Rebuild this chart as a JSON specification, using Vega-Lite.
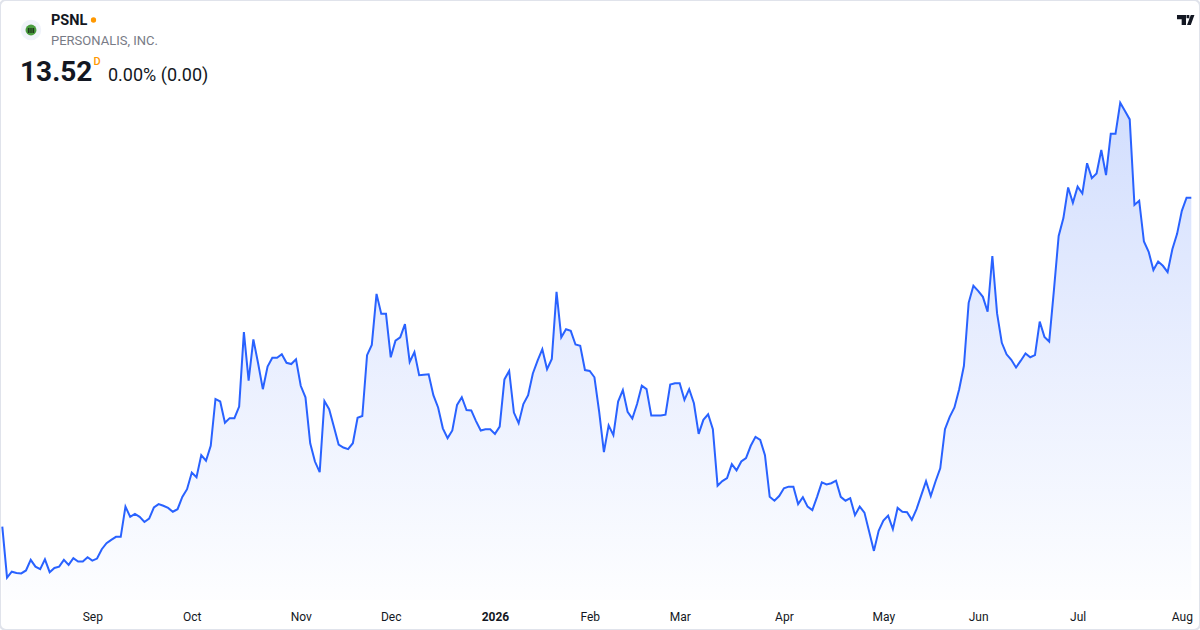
{
  "$schema": "https://vega.github.io/schema/vega-lite/v6.json",
  "description": "PSNL - Personalis, Inc. daily close, one year",
  "width": 1200,
  "height": 630,
  "autosize": {"type": "none"},
  "padding": 0,
  "background": "#ffffff",
  "config": {
    "font": "Roboto",
    "view": {"stroke": "#e0e3eb", "strokeWidth": 2, "cornerRadius": 6},
    "axis": {"domain": false, "ticks": false, "grid": false, "labelFont": "Roboto", "labelFontSize": 12, "labelColor": "#131722", "zindex": 1}
  },
  "layer": [
    {
      "data": {
        "values": [
          {"date": "2025-08-05", "close": 5.79}, {"date": "2025-08-06", "close": 4.59}, {"date": "2025-08-07", "close": 4.73},
          {"date": "2025-08-08", "close": 4.70}, {"date": "2025-08-11", "close": 4.69}, {"date": "2025-08-12", "close": 4.76},
          {"date": "2025-08-13", "close": 5.01}, {"date": "2025-08-14", "close": 4.85}, {"date": "2025-08-15", "close": 4.79},
          {"date": "2025-08-18", "close": 5.02}, {"date": "2025-08-19", "close": 4.72}, {"date": "2025-08-20", "close": 4.82},
          {"date": "2025-08-21", "close": 4.85}, {"date": "2025-08-22", "close": 5.01}, {"date": "2025-08-25", "close": 4.89},
          {"date": "2025-08-26", "close": 5.05}, {"date": "2025-08-27", "close": 4.97}, {"date": "2025-08-28", "close": 4.97},
          {"date": "2025-08-29", "close": 5.07},
          {"date": "2025-09-02", "close": 4.99}, {"date": "2025-09-03", "close": 5.04}, {"date": "2025-09-04", "close": 5.26},
          {"date": "2025-09-05", "close": 5.40}, {"date": "2025-09-08", "close": 5.48}, {"date": "2025-09-09", "close": 5.55},
          {"date": "2025-09-10", "close": 5.55}, {"date": "2025-09-11", "close": 6.26}, {"date": "2025-09-12", "close": 6.02},
          {"date": "2025-09-15", "close": 6.09}, {"date": "2025-09-16", "close": 6.02}, {"date": "2025-09-17", "close": 5.90},
          {"date": "2025-09-18", "close": 5.98}, {"date": "2025-09-19", "close": 6.24}, {"date": "2025-09-22", "close": 6.32},
          {"date": "2025-09-23", "close": 6.28}, {"date": "2025-09-24", "close": 6.23}, {"date": "2025-09-25", "close": 6.14},
          {"date": "2025-09-26", "close": 6.20}, {"date": "2025-09-29", "close": 6.49}, {"date": "2025-09-30", "close": 6.67},
          {"date": "2025-10-01", "close": 7.06}, {"date": "2025-10-02", "close": 6.95}, {"date": "2025-10-03", "close": 7.47},
          {"date": "2025-10-06", "close": 7.34}, {"date": "2025-10-07", "close": 7.69}, {"date": "2025-10-08", "close": 8.79},
          {"date": "2025-10-09", "close": 8.73}, {"date": "2025-10-10", "close": 8.23}, {"date": "2025-10-13", "close": 8.34},
          {"date": "2025-10-14", "close": 8.34}, {"date": "2025-10-15", "close": 8.61}, {"date": "2025-10-16", "close": 10.36},
          {"date": "2025-10-17", "close": 9.22}, {"date": "2025-10-20", "close": 10.19}, {"date": "2025-10-21", "close": 9.63},
          {"date": "2025-10-22", "close": 9.02}, {"date": "2025-10-23", "close": 9.55}, {"date": "2025-10-24", "close": 9.76},
          {"date": "2025-10-27", "close": 9.76}, {"date": "2025-10-28", "close": 9.84}, {"date": "2025-10-29", "close": 9.64},
          {"date": "2025-10-30", "close": 9.61}, {"date": "2025-10-31", "close": 9.72},
          {"date": "2025-11-03", "close": 9.10}, {"date": "2025-11-04", "close": 8.83}, {"date": "2025-11-05", "close": 7.75},
          {"date": "2025-11-06", "close": 7.32}, {"date": "2025-11-07", "close": 7.07}, {"date": "2025-11-10", "close": 8.74},
          {"date": "2025-11-11", "close": 8.55}, {"date": "2025-11-12", "close": 8.14}, {"date": "2025-11-13", "close": 7.72},
          {"date": "2025-11-14", "close": 7.65}, {"date": "2025-11-17", "close": 7.61}, {"date": "2025-11-18", "close": 7.75},
          {"date": "2025-11-19", "close": 8.35}, {"date": "2025-11-20", "close": 8.39}, {"date": "2025-11-21", "close": 9.82},
          {"date": "2025-11-24", "close": 10.06}, {"date": "2025-11-25", "close": 11.26}, {"date": "2025-11-26", "close": 10.79},
          {"date": "2025-11-28", "close": 10.79},
          {"date": "2025-12-01", "close": 9.77}, {"date": "2025-12-02", "close": 10.16}, {"date": "2025-12-03", "close": 10.24},
          {"date": "2025-12-04", "close": 10.55}, {"date": "2025-12-05", "close": 9.66}, {"date": "2025-12-08", "close": 9.89},
          {"date": "2025-12-09", "close": 9.35}, {"date": "2025-12-10", "close": 9.36}, {"date": "2025-12-11", "close": 9.37},
          {"date": "2025-12-12", "close": 8.88}, {"date": "2025-12-15", "close": 8.59}, {"date": "2025-12-16", "close": 8.10},
          {"date": "2025-12-17", "close": 7.87}, {"date": "2025-12-18", "close": 8.05}, {"date": "2025-12-19", "close": 8.65},
          {"date": "2025-12-22", "close": 8.83}, {"date": "2025-12-23", "close": 8.53}, {"date": "2025-12-24", "close": 8.52},
          {"date": "2025-12-26", "close": 8.27}, {"date": "2025-12-29", "close": 8.05}, {"date": "2025-12-30", "close": 8.08},
          {"date": "2025-12-31", "close": 8.08},
          {"date": "2026-01-02", "close": 7.97}, {"date": "2026-01-05", "close": 8.14}, {"date": "2026-01-06", "close": 9.25},
          {"date": "2026-01-07", "close": 9.45}, {"date": "2026-01-08", "close": 8.47}, {"date": "2026-01-09", "close": 8.22},
          {"date": "2026-01-12", "close": 8.67}, {"date": "2026-01-13", "close": 8.88}, {"date": "2026-01-14", "close": 9.39},
          {"date": "2026-01-15", "close": 9.69}, {"date": "2026-01-16", "close": 9.96}, {"date": "2026-01-20", "close": 9.49},
          {"date": "2026-01-21", "close": 9.73}, {"date": "2026-01-22", "close": 11.31}, {"date": "2026-01-23", "close": 10.24},
          {"date": "2026-01-26", "close": 10.43}, {"date": "2026-01-27", "close": 10.39}, {"date": "2026-01-28", "close": 10.07},
          {"date": "2026-01-29", "close": 10.04}, {"date": "2026-01-30", "close": 9.47},
          {"date": "2026-02-02", "close": 9.45}, {"date": "2026-02-03", "close": 9.30}, {"date": "2026-02-04", "close": 8.49},
          {"date": "2026-02-05", "close": 7.54}, {"date": "2026-02-06", "close": 8.17}, {"date": "2026-02-09", "close": 7.94},
          {"date": "2026-02-10", "close": 8.73}, {"date": "2026-02-11", "close": 9.00}, {"date": "2026-02-12", "close": 8.49},
          {"date": "2026-02-13", "close": 8.33}, {"date": "2026-02-17", "close": 8.67}, {"date": "2026-02-18", "close": 9.10},
          {"date": "2026-02-19", "close": 9.02}, {"date": "2026-02-20", "close": 8.40}, {"date": "2026-02-23", "close": 8.40},
          {"date": "2026-02-24", "close": 8.40}, {"date": "2026-02-25", "close": 8.42}, {"date": "2026-02-26", "close": 9.13},
          {"date": "2026-02-27", "close": 9.16},
          {"date": "2026-03-02", "close": 9.16}, {"date": "2026-03-03", "close": 8.77}, {"date": "2026-03-04", "close": 9.02},
          {"date": "2026-03-05", "close": 8.69}, {"date": "2026-03-06", "close": 7.97}, {"date": "2026-03-09", "close": 8.30},
          {"date": "2026-03-10", "close": 8.43}, {"date": "2026-03-11", "close": 8.08}, {"date": "2026-03-12", "close": 6.75},
          {"date": "2026-03-13", "close": 6.86}, {"date": "2026-03-16", "close": 6.93}, {"date": "2026-03-17", "close": 7.26},
          {"date": "2026-03-18", "close": 7.11}, {"date": "2026-03-19", "close": 7.32}, {"date": "2026-03-20", "close": 7.40},
          {"date": "2026-03-23", "close": 7.69}, {"date": "2026-03-24", "close": 7.90}, {"date": "2026-03-25", "close": 7.83},
          {"date": "2026-03-26", "close": 7.47}, {"date": "2026-03-27", "close": 6.49}, {"date": "2026-03-30", "close": 6.40},
          {"date": "2026-03-31", "close": 6.51},
          {"date": "2026-04-01", "close": 6.69}, {"date": "2026-04-02", "close": 6.73}, {"date": "2026-04-06", "close": 6.73},
          {"date": "2026-04-07", "close": 6.32}, {"date": "2026-04-08", "close": 6.48}, {"date": "2026-04-09", "close": 6.26},
          {"date": "2026-04-10", "close": 6.18}, {"date": "2026-04-13", "close": 6.49}, {"date": "2026-04-14", "close": 6.83},
          {"date": "2026-04-15", "close": 6.78}, {"date": "2026-04-16", "close": 6.81}, {"date": "2026-04-17", "close": 6.87},
          {"date": "2026-04-20", "close": 6.49}, {"date": "2026-04-21", "close": 6.40}, {"date": "2026-04-22", "close": 6.46},
          {"date": "2026-04-23", "close": 6.06}, {"date": "2026-04-24", "close": 6.26}, {"date": "2026-04-27", "close": 6.12},
          {"date": "2026-04-28", "close": 5.67}, {"date": "2026-04-29", "close": 5.22}, {"date": "2026-04-30", "close": 5.69},
          {"date": "2026-05-01", "close": 5.93}, {"date": "2026-05-04", "close": 6.05}, {"date": "2026-05-05", "close": 5.73},
          {"date": "2026-05-06", "close": 6.23}, {"date": "2026-05-07", "close": 6.14}, {"date": "2026-05-08", "close": 6.13},
          {"date": "2026-05-11", "close": 5.95}, {"date": "2026-05-12", "close": 6.20}, {"date": "2026-05-13", "close": 6.53},
          {"date": "2026-05-14", "close": 6.86}, {"date": "2026-05-15", "close": 6.51}, {"date": "2026-05-18", "close": 6.85},
          {"date": "2026-05-19", "close": 7.16}, {"date": "2026-05-20", "close": 8.08}, {"date": "2026-05-21", "close": 8.37},
          {"date": "2026-05-22", "close": 8.59}, {"date": "2026-05-26", "close": 9.02}, {"date": "2026-05-27", "close": 9.57},
          {"date": "2026-05-28", "close": 11.05}, {"date": "2026-05-29", "close": 11.45},
          {"date": "2026-06-01", "close": 11.33}, {"date": "2026-06-02", "close": 11.19}, {"date": "2026-06-03", "close": 10.84},
          {"date": "2026-06-04", "close": 12.15}, {"date": "2026-06-05", "close": 10.80}, {"date": "2026-06-08", "close": 10.11},
          {"date": "2026-06-09", "close": 9.84}, {"date": "2026-06-10", "close": 9.71}, {"date": "2026-06-11", "close": 9.53},
          {"date": "2026-06-12", "close": 9.69}, {"date": "2026-06-15", "close": 9.86}, {"date": "2026-06-16", "close": 9.77},
          {"date": "2026-06-17", "close": 9.82}, {"date": "2026-06-18", "close": 10.61}, {"date": "2026-06-22", "close": 10.25},
          {"date": "2026-06-23", "close": 10.14}, {"date": "2026-06-24", "close": 11.35}, {"date": "2026-06-25", "close": 12.62},
          {"date": "2026-06-26", "close": 13.04}, {"date": "2026-06-29", "close": 13.76}, {"date": "2026-06-30", "close": 13.40},
          {"date": "2026-07-01", "close": 13.78}, {"date": "2026-07-02", "close": 13.62}, {"date": "2026-07-06", "close": 14.33},
          {"date": "2026-07-07", "close": 13.98}, {"date": "2026-07-08", "close": 14.09}, {"date": "2026-07-09", "close": 14.64},
          {"date": "2026-07-10", "close": 14.05}, {"date": "2026-07-13", "close": 15.02}, {"date": "2026-07-14", "close": 15.02},
          {"date": "2026-07-15", "close": 15.75}, {"date": "2026-07-16", "close": 15.56}, {"date": "2026-07-17", "close": 15.36},
          {"date": "2026-07-20", "close": 13.35}, {"date": "2026-07-21", "close": 13.45}, {"date": "2026-07-22", "close": 12.49},
          {"date": "2026-07-23", "close": 12.25}, {"date": "2026-07-24", "close": 11.82}, {"date": "2026-07-27", "close": 12.02},
          {"date": "2026-07-28", "close": 11.92}, {"date": "2026-07-29", "close": 11.77}, {"date": "2026-07-30", "close": 12.31},
          {"date": "2026-07-31", "close": 12.67},
          {"date": "2026-08-03", "close": 13.21}, {"date": "2026-08-04", "close": 13.52}, {"date": "2026-08-05", "close": 13.52}
        ]
      },
      "mark": {
        "type": "area",
        "line": {"color": "#2962ff", "strokeWidth": 2},
        "color": {
          "gradient": "linear", "x1": 0, "y1": 0, "x2": 0, "y2": 1,
          "stops": [
            {"offset": 0, "color": "#bfd0fd"},
            {"offset": 0.5, "color": "#dfe7fe"},
            {"offset": 1, "color": "#fcfdff"}
          ]
        }
      },
      "encoding": {
        "x": {
          "field": "date",
          "type": "ordinal",
          "title": null,
          "scale": {"type": "point", "range": [2.3, 1191.3], "padding": 0},
          "axis": {
            "values": ["2025-09-02", "2025-10-01", "2025-11-03", "2025-12-01", "2026-01-02", "2026-02-02", "2026-03-02", "2026-04-01", "2026-05-01", "2026-06-01", "2026-07-01", "2026-08-03"],
            "labelExpr": "datum.value == '2026-01-02' ? '2026' : utcFormat(toDate(datum.value), '%b')",
            "labelFontWeight": {"condition": {"test": "datum.value == '2026-01-02'", "value": "bold"}, "value": "normal"},
            "labelAngle": 0,
            "labelOverlap": false,
            "labelFlush": false,
            "labelBound": false,
            "offset": -24,
            "labelPadding": 5
          }
        },
        "y": {
          "field": "close",
          "type": "quantitative",
          "scale": {"domain": [3.361, 18.166], "zero": false, "nice": false},
          "axis": null
        },
        "y2": {"datum": 4.066}
      }
    },
    {
      "data": {"values": [{}]},
      "mark": {"type": "point", "filled": true, "x": 31, "y": 30, "size": 420, "color": "#f0f3fa", "opacity": 1}
    },
    {
      "data": {"values": [{}]},
      "mark": {"type": "point", "filled": true, "x": 31, "y": 30, "size": 120, "color": "#4a9d3f", "opacity": 1}
    },
    {
      "data": {"values": [{}]},
      "mark": {"type": "point", "filled": true, "x": 31, "y": 30.5, "size": 40, "color": "#1e3a1c", "opacity": 1, "shape": "M-1,-0.8H-0.45V0.8H-1Z M-0.22,-0.8H0.22V0.8H-0.22Z M0.45,-0.8H1V0.8H0.45Z"}
    },
    {
      "data": {"values": [{}]},
      "mark": {"type": "text", "text": "PSNL", "x": 51, "y": 25, "align": "left", "baseline": "alphabetic", "fontSize": 14.5, "fontWeight": "bold", "color": "#131722"}
    },
    {
      "data": {"values": [{}]},
      "mark": {"type": "point", "filled": true, "x": 93.5, "y": 20, "size": 28, "color": "#ff9800", "opacity": 1}
    },
    {
      "data": {"values": [{}]},
      "mark": {"type": "text", "text": "PERSONALIS, INC.", "x": 51, "y": 45, "align": "left", "baseline": "alphabetic", "fontSize": 13, "color": "#787b86"}
    },
    {
      "data": {"values": [{}]},
      "mark": {"type": "text", "text": "13.52", "x": 20, "y": 81, "align": "left", "baseline": "alphabetic", "fontSize": 28, "fontWeight": "bold", "color": "#131722"}
    },
    {
      "data": {"values": [{}]},
      "mark": {"type": "text", "text": "D", "x": 93.5, "y": 65, "align": "left", "baseline": "alphabetic", "fontSize": 11, "fontWeight": 500, "color": "#ff9800"}
    },
    {
      "data": {"values": [{}]},
      "mark": {"type": "text", "text": "0.00% (0.00)", "x": 108, "y": 81, "align": "left", "baseline": "alphabetic", "fontSize": 18, "color": "#131722"}
    },
    {
      "data": {"values": [{}]},
      "mark": {"type": "point", "filled": true, "x": 1185.5, "y": 20, "size": 290, "color": "#131722", "opacity": 1,
        "shape": "M-1,-0.59H0.06V0.59H-0.45V-0.1H-1Z M0.12,-0.59H0.45V-0.22H0.12Z M0.62,-0.59H1.05L0.62,0.59H0.18Z"}
    }
  ]
}
